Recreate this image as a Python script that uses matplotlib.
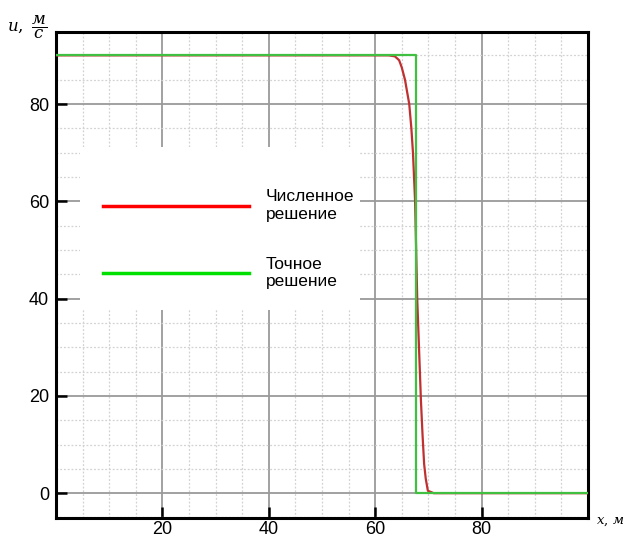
import numpy as np
import matplotlib
matplotlib.use("Agg")
import matplotlib.pyplot as plt
from matplotlib.ticker import MultipleLocator
from matplotlib.patches import Rectangle

# численное решение
x_num = [0, 62.5, 63.7, 64.5, 65.0, 65.6, 66.0, 66.4, 66.8, 67.1, 67.5, 67.9,
         68.3, 68.6, 68.9, 69.2, 69.5, 69.9, 71.0, 73.0, 100]
u_num = [90, 90, 89.8, 89, 87.5, 85, 82.5, 80, 75, 70, 60, 40,
         28, 19, 12, 6, 3, 0.5, 0, 0, 0]

# точное решение - разрыв
x_exact = [0, 67.6, 67.6, 100]
u_exact = [90, 90, 0, 0]

xticks = [20, 40, 60, 80]
yticks = [0, 20, 40, 60, 80]
label_num = "Численное\nрешение"
label_exact = "Точное\nрешение"

plt.rcParams['font.family'] = ['Liberation Sans', 'DejaVu Sans']
plt.rcParams['mathtext.fontset'] = 'dejavuserif'

fig = plt.figure(figsize=(6.24, 5.38), dpi=100)
ax = fig.add_axes([0.0897, 0.0372, 0.8526, 0.9033])

ax.plot(x_num, u_num, color='#c03030', lw=1.6, zorder=3, label=label_num)
ax.plot(x_exact, u_exact, color='#40c040', lw=1.6, zorder=3.5, label=label_exact)

ax.set_xlim(0, 100)
ax.set_ylim(-5.1, 94.8)
ax.set_xticks(xticks)
ax.set_yticks(yticks)
ax.xaxis.set_minor_locator(MultipleLocator(5))
ax.yaxis.set_minor_locator(MultipleLocator(5))

ax.grid(which='major', color='#9a9a9a', lw=1.3, ls='-')
ax.grid(which='minor', color='#d2d2d2', lw=0.9, ls=(0, (1.5, 1.5)))
ax.tick_params(which='major', direction='in', length=8, width=1.8,
               labelsize=13, pad=5)
ax.tick_params(axis='x', which='major', pad=2.5)
ax.tick_params(which='minor', length=0)
for s in ax.spines.values():
    s.set_linewidth(2.2)

# белая подложка под легенду
ax.add_patch(Rectangle((0.045, 0.428), 0.526, 0.335, transform=ax.transAxes,
                       facecolor='white', edgecolor='none', zorder=2))

leg = ax.legend(loc='upper left', bbox_to_anchor=(0.088, 0.676), frameon=False,
                handlelength=8.4, handletextpad=1.0, labelspacing=2.0,
                borderpad=0, borderaxespad=0, fontsize=12.5)
for ln, c in zip(leg.get_lines(), ['#ff0000', '#00e000']):
    ln.set_color(c)
    ln.set_linewidth(2.5)
leg.set_zorder(4)

fig.text(0.012, 0.950, r'$u,\ \dfrac{м}{c}$', fontsize=12, ha='left', va='center')
fig.text(0.955, 0.031, r'$x,\,м$', fontsize=9.5, ha='left', va='center')

fig.savefig("out.png", dpi=100)
